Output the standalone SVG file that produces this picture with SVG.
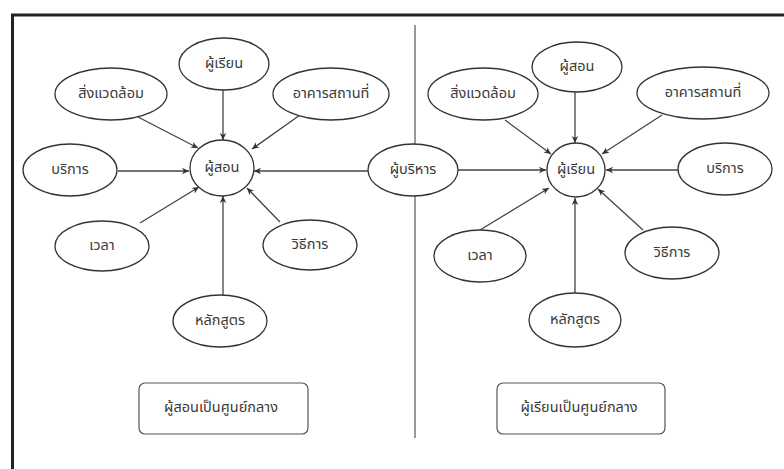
<svg xmlns="http://www.w3.org/2000/svg" width="784" height="469" viewBox="0 0 784 469">
<defs>
<marker id="ah" markerWidth="8" markerHeight="8" refX="7" refY="4" orient="auto" markerUnits="userSpaceOnUse">
<path d="M0,0.8 L7,4 L0,7.2 L2,4 Z" fill="#333"/>
</marker>
<style>
.n ellipse{fill:#fff;stroke:#333;stroke-width:1.3}
.n rect{fill:#fff;stroke:#555;stroke-width:1.2}
.n text{font-family:"Noto Sans Thai","Noto Sans","DejaVu Sans",sans-serif;font-size:14.5px;fill:#3a3a3a;text-anchor:middle;dominant-baseline:central}
#edges line{stroke:#444;stroke-width:1.3;marker-end:url(#ah)}
</style>
</defs>
<rect x="0" y="0" width="784" height="469" fill="#fff"/>
<path d="M12.5,469 V15 H784" fill="none" stroke="#222" stroke-width="3"/>
<line x1="415" y1="25" x2="415" y2="438" stroke="#555" stroke-width="1.2"/>
<g id="edges">
<line x1="223" y1="90" x2="223" y2="140"/>
<line x1="138" y1="117" x2="198" y2="148"/>
<line x1="300" y1="115" x2="252" y2="149"/>
<line x1="118" y1="171" x2="189" y2="171"/>
<line x1="368" y1="171" x2="254" y2="171"/>
<line x1="140" y1="223" x2="199" y2="187"/>
<line x1="280" y1="222" x2="247" y2="188"/>
<line x1="223" y1="295" x2="223" y2="196"/>
<line x1="575" y1="92" x2="575" y2="143"/>
<line x1="505" y1="120" x2="551" y2="154"/>
<line x1="662" y1="115" x2="602" y2="154"/>
<line x1="678" y1="170" x2="606" y2="170"/>
<line x1="458" y1="170" x2="546" y2="170"/>
<line x1="480" y1="230" x2="549" y2="188"/>
<line x1="643" y1="230" x2="598" y2="189"/>
<line x1="575" y1="293" x2="575" y2="198"/>
</g>
<g id="l-learner" class="n"><ellipse cx="224" cy="64" rx="45" ry="26"/><text x="224" y="64">ผู้เรียน</text></g>
<g id="l-env" class="n"><ellipse cx="111" cy="94" rx="56" ry="26"/><text x="111" y="94">สิ่งแวดล้อม</text></g>
<g id="l-building" class="n"><ellipse cx="331" cy="94" rx="58" ry="26"/><text x="331" y="94">อาคารสถานที่</text></g>
<g id="l-teacher" class="n"><ellipse cx="222" cy="168" rx="32" ry="28"/><text x="222" y="168">ผู้สอน</text></g>
<g id="l-service" class="n"><ellipse cx="70" cy="170" rx="47" ry="26"/><text x="70" y="170">บริการ</text></g>
<g id="admin" class="n"><ellipse cx="413" cy="170" rx="45" ry="26"/><text x="413" y="170">ผู้บริหาร</text></g>
<g id="l-time" class="n"><ellipse cx="102" cy="246" rx="47" ry="25"/><text x="102" y="246">เวลา</text></g>
<g id="l-method" class="n"><ellipse cx="310" cy="245" rx="47" ry="25"/><text x="310" y="245">วิธีการ</text></g>
<g id="l-curr" class="n"><ellipse cx="220" cy="321" rx="47" ry="26"/><text x="220" y="321">หลักสูตร</text></g>
<g id="l-box" class="n"><rect x="139" y="383" width="169" height="51" rx="6"/><text x="221" y="408">ผู้สอนเป็นศูนย์กลาง</text></g>
<g id="r-teacher" class="n"><ellipse cx="577" cy="67" rx="45" ry="25"/><text x="577" y="67">ผู้สอน</text></g>
<g id="r-env" class="n"><ellipse cx="483" cy="94" rx="55" ry="26"/><text x="483" y="94">สิ่งแวดล้อม</text></g>
<g id="r-building" class="n"><ellipse cx="703" cy="93" rx="66" ry="26"/><text x="703" y="93">อาคารสถานที่</text></g>
<g id="r-learner" class="n"><ellipse cx="576" cy="170" rx="29" ry="27"/><text x="576" y="170">ผู้เรียน</text></g>
<g id="r-service" class="n"><ellipse cx="725" cy="169" rx="47" ry="26"/><text x="725" y="169">บริการ</text></g>
<g id="r-time" class="n"><ellipse cx="480" cy="256" rx="46" ry="26"/><text x="480" y="256">เวลา</text></g>
<g id="r-method" class="n"><ellipse cx="672" cy="253" rx="47" ry="26"/><text x="672" y="253">วิธีการ</text></g>
<g id="r-curr" class="n"><ellipse cx="575" cy="320" rx="46" ry="27"/><text x="575" y="320">หลักสูตร</text></g>
<g id="r-box" class="n"><rect x="497" y="383" width="168" height="51" rx="6"/><text x="579" y="408">ผู้เรียนเป็นศูนย์กลาง</text></g>
</svg>
